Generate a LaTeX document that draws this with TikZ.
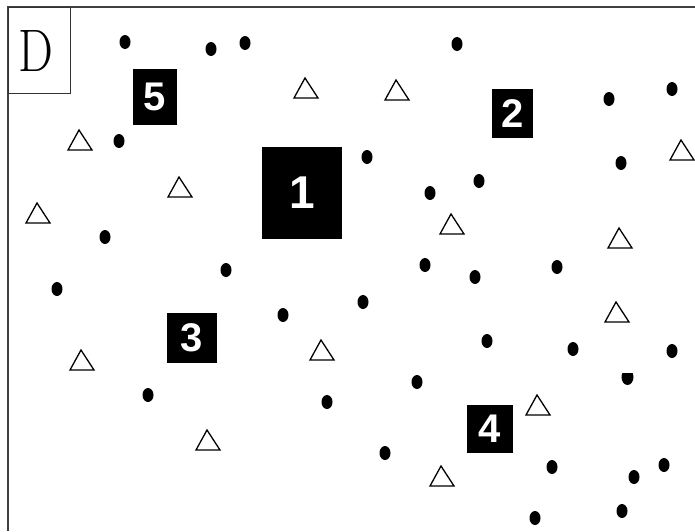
\documentclass[tikz,border=0pt]{standalone}
\usepackage{fontspec}
\newfontfamily\digitfont{Liberation Sans}
\begin{document}
\begin{tikzpicture}[x=1pt,y=-1pt,
  frameline/.style={draw=black!75,line width=2pt},
  dot/.style={fill=black,draw=none},
  tri/.style={draw=black,line width=1.3pt,line join=miter,fill=white},
  numbox/.style={fill=black,text=white,inner sep=0pt,font=\digitfont\bfseries\fontsize{40}{40}\selectfont}]
\useasboundingbox (0,0) rectangle (695,531);
\fill[white] (0,0) rectangle (695,531);
% frame
\coordinate (tr) at (695,7);
\coordinate (tl) at (8,7);
\coordinate (bl) at (8,531);
\draw[frameline] (tr) -- (tl) -- (bl);
% D box
\node[draw=black!80,line width=1.3pt,minimum width=62pt,minimum height=86pt,inner sep=0pt,anchor=north west] (dbox) at (8,7) {};
\node[inner sep=0pt,xscale=0.82,font=\fontsize{60}{60}\selectfont] (dlabel) at (36,51) {D};
% numbered boxes
\node[numbox,minimum width=80pt,minimum height=92pt,font=\digitfont\bfseries\fontsize{46}{46}\selectfont] (b1) at (302,193) {1};
\node[numbox,minimum width=41pt,minimum height=49pt] (b2) at (512.5,113.5) {2};
\node[numbox,minimum width=50pt,minimum height=50pt] (b3) at (192,338) {3};
\node[numbox,minimum width=46pt,minimum height=48pt] (b4) at (490,429) {4};
\node[numbox,minimum width=44pt,minimum height=56pt] (b5) at (155,96.5) {5};
% dots
\foreach \p in {(125,42),(211,49),(245,43),(457,44),(609,99),(672,89),(119,141),(367,157),(621,163),(479,181),(430,193),(105,237),(226,270),(425,265),(557,267),(475,277),(57,289),(363,302),(283,315),(487,341),(573,349),(672,351),(417,382),(148,395),(327,402),(385,453),(552,467),(664,465),(634,477),(622,511),(535,518)}
  \fill[dot] \p ellipse [x radius=5.5pt,y radius=7pt];
% half dot
\begin{scope}
  \clip (615,373) rectangle (640,390);
  \fill[dot] (627.5,377) ellipse [x radius=6pt,y radius=8pt];
\end{scope}
% triangles
\foreach \cx/\cy in {306/88,397/90,80/140,682/150,180/187,38/213,452/224,620/238,617/312,322/350,82/360,538/405,208/440,442/476}
  \draw[tri] (\cx-12,\cy+10) -- (\cx+12,\cy+10) -- (\cx-1,\cy-10) -- cycle;
\end{tikzpicture}
\end{document}
